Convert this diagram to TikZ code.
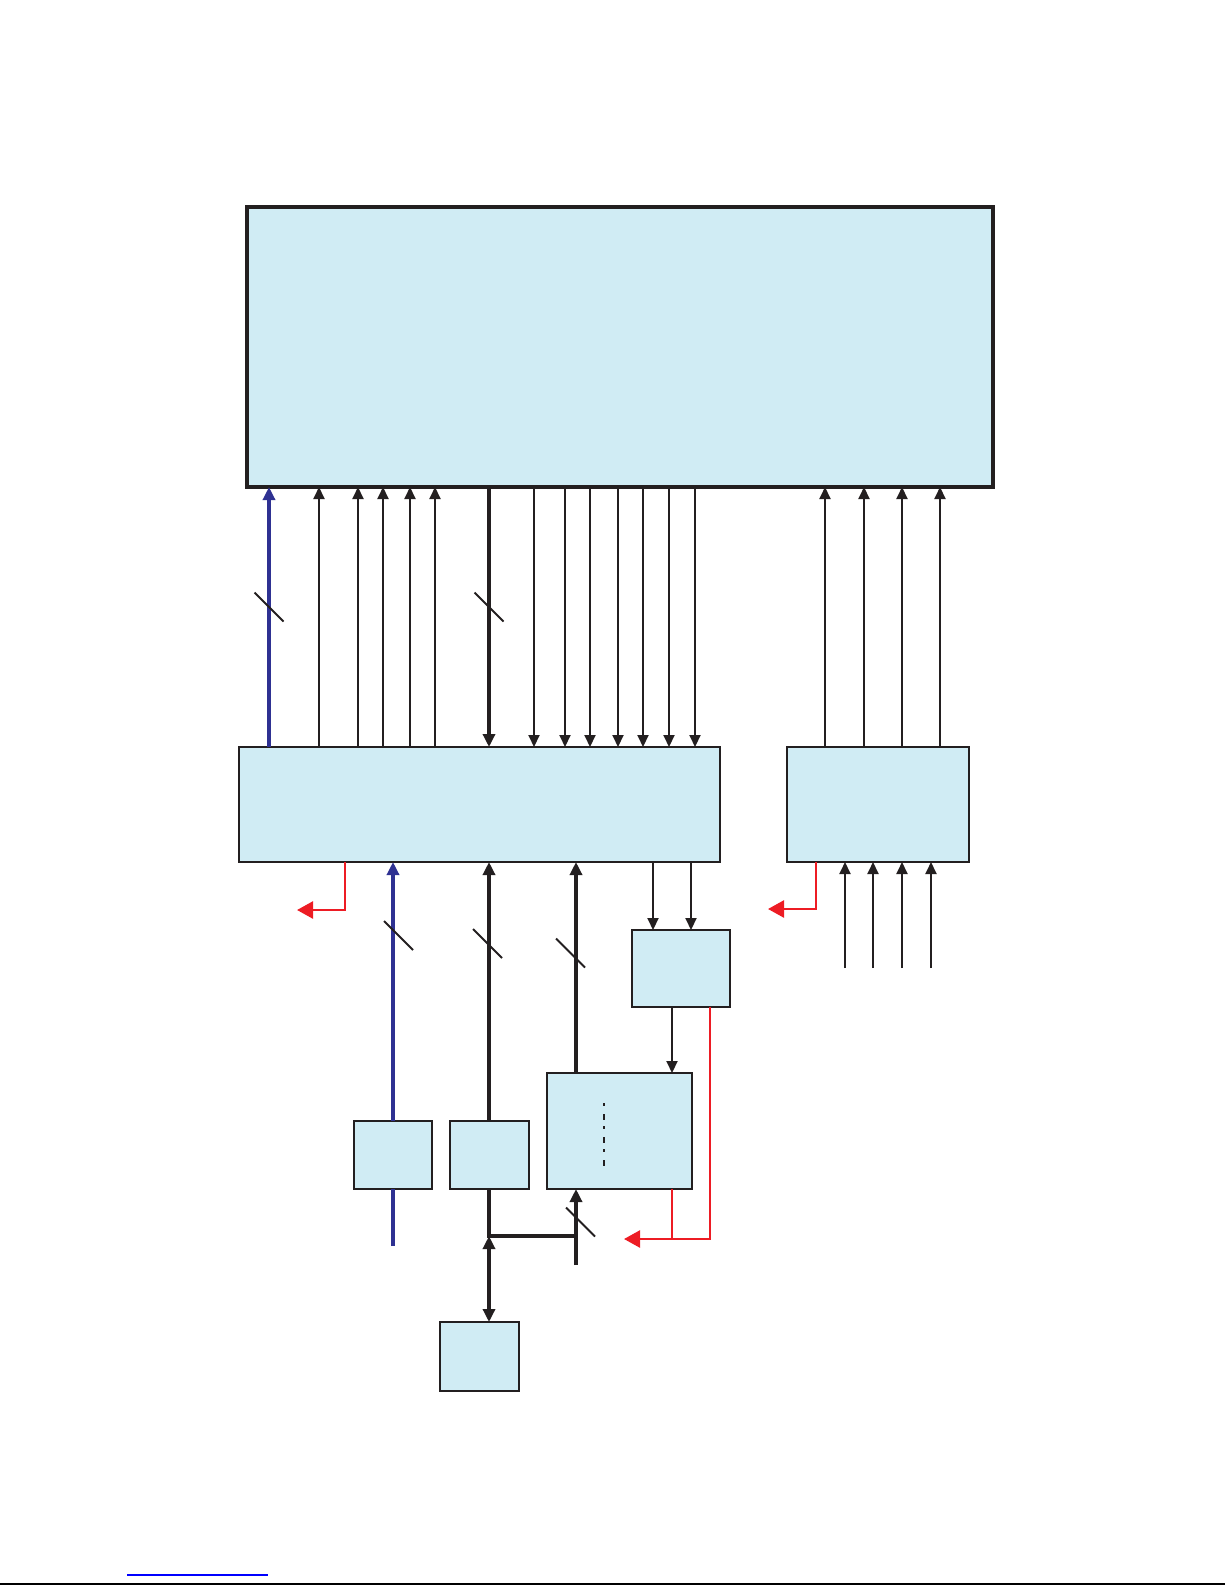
\documentclass[tikz,border=0pt]{standalone}
\usetikzlibrary{arrows.meta}
\definecolor{boxfill}{RGB}{208,236,244}
\definecolor{busblue}{RGB}{46,49,146}
\definecolor{ink}{RGB}{35,31,32}
\definecolor{flagred}{RGB}{237,28,36}
\newcommand\busslash[1]{\draw[slashline] (#1) ++(-14.5,-14.5) -- ++(29,29);}
\tikzset{
  blk/.style={draw=ink, fill=boxfill, line width=1.3pt, outer sep=0pt, inner sep=0pt},
  sig/.style={draw=ink, line width=1pt, -{Triangle[length=6pt,width=5.5pt]}},
  bus/.style={draw=ink, line width=2.2pt, -{Triangle[length=6.5pt,width=6pt]}},
  bluebus/.style={draw=busblue, line width=1.8pt, -{Triangle[length=6.5pt,width=6pt]}},
  flag/.style={draw=flagred, line width=1.2pt, -{Triangle[length=8pt,width=8.5pt]}},
  slashline/.style={draw=ink, line width=0.9pt},
}

\begin{document}
\begin{tikzpicture}[x=0.5pt,y=-0.5pt]
  \useasboundingbox (0,0) rectangle (1225,1585);
  % boxes
  \node[blk, line width=1.8pt, minimum width=373pt, minimum height=140pt] (main) at (620,347) {};
  \node[blk, minimum width=240.5pt, minimum height=57.5pt] (ctrl) at (479.5,804.5) {};
  \node[blk, minimum width=91pt, minimum height=57.5pt] (aux) at (878,804.5) {};
  \node[blk, minimum width=49pt, minimum height=38.5pt] (mid) at (681,968.5) {};
  \node[blk, minimum width=72.5pt, minimum height=58pt] (mem) at (619.5,1131) {};
  \node[blk, minimum width=39pt, minimum height=34pt] (bufa) at (393,1155) {};
  \node[blk, minimum width=39.5pt, minimum height=34pt] (bufb) at (489.5,1155) {};
  \node[blk, minimum width=39.5pt, minimum height=34.5pt] (dev) at (479.5,1356.5) {};
  \draw[ink, line width=0.7pt, dash pattern=on 1.5pt off 4pt on 3pt off 3pt] (604,1103) -- (604,1170);

  % ctrl -> main
  \draw[bluebus] (ctrl.north -| 269,0) -- (main.south -| 269,0);
  \foreach \x in {319,358,383,410,435}
  {
    \draw[sig] (ctrl.north -| \x,0) -- (main.south -| \x,0);
  }
  \draw[bus] (main.south -| 489,0) -- (ctrl.north -| 489,0);
  \foreach \x in {534,565,590,618,643,669,695}
  {
    \draw[sig] (main.south -| \x,0) -- (ctrl.north -| \x,0);
  }
  \busslash{269,607}
  \busslash{489,607}

  % aux -> main
  \foreach[count=\i] \x/\y in {825/845,864/873,902/902,940/931}
  {
    \draw[sig] (aux.north -| \x,0) -- (main.south -| \x,0);
    \coordinate (in\i) at (\y,968);
    \draw[sig] (in\i) -- (aux.south -| in\i);
  }

  % below ctrl
  \coordinate (blueend) at (393,1246);
  \draw[busblue, line width=1.8pt] (blueend) -- (bufa.south);
  \draw[bluebus] (bufa.north) -- (ctrl.south -| bufa.north);
  \draw[bus] (bufb.north -| 489,0) -- (ctrl.south -| 489,0);
  \draw[bus] (mem.north -| 576,0) -- (ctrl.south -| 576,0);
  \busslash{398.5,935.5}
  \busslash{487.5,943.5}
  \busslash{570.5,953}
  \foreach \x in {653,691}
  {
    \draw[sig] (ctrl.south -| \x,0) -- (mid.north -| \x,0);
  }
  \draw[sig] (mid.south -| 672,0) -- (mem.north -| 672,0);

  % shared bus to dev
  \coordinate (jn) at (489,1236);
  \coordinate (jr) at (576,1236);
  \coordinate (tail) at (576,1265);
  \draw[ink, line width=2.2pt] (bufb.south -| jn) -- (jn) -- (jr);
  \draw[bus] (tail) -- (mem.south -| tail);
  \draw[bus, {Triangle[length=6.5pt,width=6pt]}-{Triangle[length=6.5pt,width=6pt]}] (jn) -- (dev.north -| jn);
  \busslash{580.5,1222}

  % red flags
  \coordinate (fa) at (297,910);
  \coordinate (fb) at (768,909);
  \coordinate (fc) at (624,1239);
  \draw[flag] (ctrl.south -| 345,0) |- (fa);
  \draw[flag] (aux.south -| 816,0) |- (fb);
  \draw[flag] (mem.south -| 672,0) |- (fc);
  \draw[flagred, line width=0.8pt] (mid.south -| 710,0) |- (672,1239);

  % foot
  \coordinate (la) at (127,1575);
  \coordinate (lb) at (268,1575);
  \draw[blue, line width=0.6pt] (la) -- (lb);
  \coordinate (fl) at (0,1584);
  \coordinate (fr) at (1225,1584);
  \draw[black, line width=0.8pt] (fl) -- (fr);
\end{tikzpicture}
\end{document}
